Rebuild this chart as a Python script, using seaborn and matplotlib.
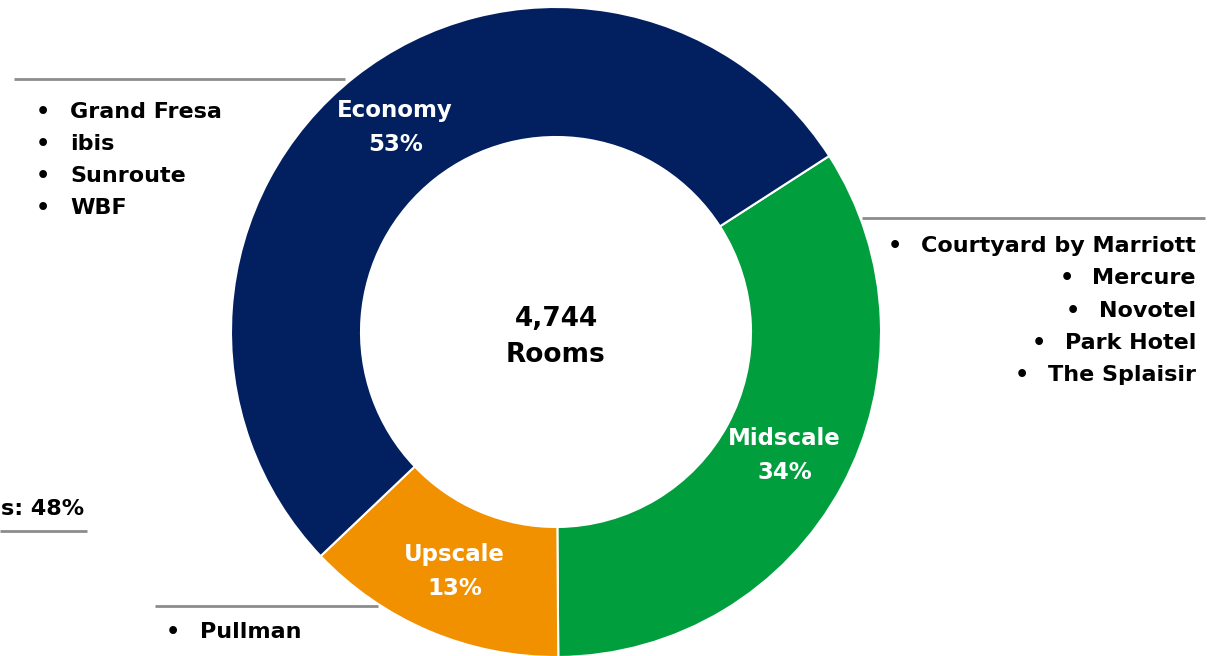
import matplotlib.pyplot as plt
import seaborn as sns

sns.set_style("white", rc={'text.color': 'black'})
plt.rcParams['font.family'] = ['DejaVu Sans']

# data
segments = ['Midscale', 'Upscale', 'Economy']
shares = [34, 13, 53]
seg_colors = ['#009E3D', '#F29100', '#022060']
total_rooms = '4,744'
economy_brands = ['Grand Fresa', 'ibis', 'Sunroute', 'WBF']
midscale_brands = ['Courtyard by Marriott', 'Mercure', 'Novotel', 'Park Hotel', 'The Splaisir']
upscale_brands = ['Pullman']
side_note = 's: 48%'

W, H = 1225, 656
fig = plt.figure(figsize=(W / 100, H / 100), dpi=100)
ax = fig.add_axes([0, 0, 1, 1])

cx, cy, R = 556, H - 332, 325
wedges, texts = ax.pie(
    shares, colors=seg_colors, startangle=32.8, counterclock=False,
    center=(cx, cy), radius=R,
    labels=[f'{s}\n{v}%' for s, v in zip(segments, shares)], labeldistance=0.8,
    wedgeprops=dict(width=R * 0.4, edgecolor='white', linewidth=1.5),
    textprops=dict(color='white', fontsize=16.5, fontweight='bold', linespacing=1.6))
for t in texts:
    t.set_ha('center')
    t.set_va('center')
    t.set_multialignment('center')

ax.set_xlim(0, W)
ax.set_ylim(0, H)
ax.set_aspect('equal')
ax.axis('off')

ax.text(cx, H - 337, f'{total_rooms}\nRooms', ha='center', va='center',
        fontsize=19, fontweight='bold', linespacing=1.5, color='black')

line_kw = dict(color='#8c8c8c', lw=2, solid_capstyle='butt')
ax.plot([14, 345], [H - 79, H - 79], **line_kw)
ax.plot([862, 1205], [H - 218, H - 218], **line_kw)
ax.plot([0, 87], [H - 531, H - 531], **line_kw)
ax.plot([155, 378], [H - 606, H - 606], **line_kw)

fs = 16
txt = dict(va='center', fontsize=fs, fontweight='bold', color='black')
for i, name in enumerate(economy_brands):
    y = H - (112 + 32 * i)
    ax.text(36, y, '•', ha='left', **txt)
    ax.text(70, y, name, ha='left', **txt)

for i, name in enumerate(upscale_brands):
    y = H - (632 + 32 * i)
    ax.text(166, y, '•', ha='left', **txt)
    ax.text(200, y, name, ha='left', **txt)

ax.text(1, H - 509, side_note, ha='left', **txt)

fig.canvas.draw()
renderer = fig.canvas.get_renderer()
inv = ax.transData.inverted()
for i, name in enumerate(midscale_brands):
    y = H - (246 + 32.3 * i)
    t = ax.text(1196, y, name, ha='right', **txt)
    bb = t.get_window_extent(renderer)
    x0 = inv.transform((bb.x0, bb.y0))[0]
    ax.text(x0 - 33, y, '•', ha='left', **txt)

fig.savefig('out.png', dpi=100)
